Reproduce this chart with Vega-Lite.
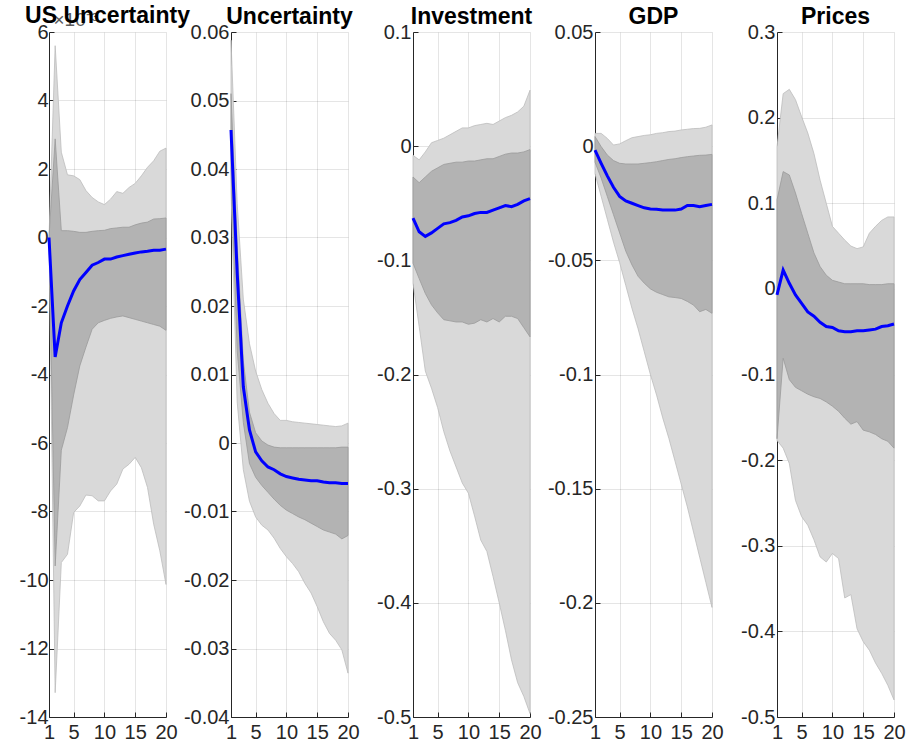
{
  "$schema": "https://vega.github.io/schema/vega-lite/v6.json",
  "background": "white",
  "padding": {"left": 19, "top": 5, "right": 4, "bottom": 2},
  "bounds": "flush",
  "spacing": 65,
  "config": {
    "font": "Liberation Sans",
    "view": {"stroke": null},
    "axis": {
      "domainColor": "#262626",
      "domainWidth": 1,
      "tickColor": "#262626",
      "tickSize": -5,
      "labelFont": "Liberation Sans",
      "labelFontSize": 20,
      "labelColor": "#262626",
      "labelFlush": false,
      "labelOverlap": false,
      "labelBound": false,
      "grid": true,
      "gridColor": "#000000",
      "gridOpacity": 0.1,
      "gridWidth": 1,
      "title": null,
      "zindex": 1,
      "labelExpr": "'' + datum.value"
    },
    "axisX": {"labelPadding": 10},
    "axisY": {"labelPadding": 7},
    "title": {
      "font": "Liberation Sans",
      "fontSize": 23,
      "fontWeight": "bold",
      "color": "#000000",
      "anchor": "middle",
      "frame": "group",
      "baseline": "alphabetic",
      "offset": -7
    },
    "area": {"strokeWidth": 0.8},
    "line": {"color": "#0000ff", "strokeWidth": 3},
    "rule": {"color": "#000000", "strokeWidth": 2}
  },
  "datasets": {
    "irf": [
      {"panel": "US Uncertainty", "h": 1, "lo90": 0, "lo68": 0, "med": 0, "hi68": 0, "hi90": 0},
      {"panel": "US Uncertainty", "h": 2, "lo90": -13.29, "lo68": -9.59, "med": -3.49, "hi68": 2.88, "hi90": 5.6},
      {"panel": "US Uncertainty", "h": 3, "lo90": -9.49, "lo68": -6.21, "med": -2.49, "hi68": 0.2, "hi90": 2.49},
      {"panel": "US Uncertainty", "h": 4, "lo90": -9.25, "lo68": -5.55, "med": -2.0, "hi68": 0.2, "hi90": 1.83},
      {"panel": "US Uncertainty", "h": 5, "lo90": -8.03, "lo68": -4.6, "med": -1.56, "hi68": 0.18, "hi90": 1.8},
      {"panel": "US Uncertainty", "h": 6, "lo90": -7.84, "lo68": -3.75, "med": -1.23, "hi68": 0.15, "hi90": 1.69},
      {"panel": "US Uncertainty", "h": 7, "lo90": -7.52, "lo68": -3.2, "med": -1.02, "hi68": 0.15, "hi90": 1.37},
      {"panel": "US Uncertainty", "h": 8, "lo90": -7.54, "lo68": -2.68, "med": -0.81, "hi68": 0.18, "hi90": 1.17},
      {"panel": "US Uncertainty", "h": 9, "lo90": -7.69, "lo68": -2.49, "med": -0.73, "hi68": 0.2, "hi90": 1.04},
      {"panel": "US Uncertainty", "h": 10, "lo90": -7.69, "lo68": -2.42, "med": -0.63, "hi68": 0.21, "hi90": 0.96},
      {"panel": "US Uncertainty", "h": 11, "lo90": -7.4, "lo68": -2.36, "med": -0.63, "hi68": 0.26, "hi90": 1.12},
      {"panel": "US Uncertainty", "h": 12, "lo90": -7.2, "lo68": -2.32, "med": -0.57, "hi68": 0.28, "hi90": 1.34},
      {"panel": "US Uncertainty", "h": 13, "lo90": -6.76, "lo68": -2.29, "med": -0.53, "hi68": 0.3, "hi90": 1.29},
      {"panel": "US Uncertainty", "h": 14, "lo90": -6.62, "lo68": -2.34, "med": -0.49, "hi68": 0.3, "hi90": 1.46},
      {"panel": "US Uncertainty", "h": 15, "lo90": -6.42, "lo68": -2.39, "med": -0.45, "hi68": 0.37, "hi90": 1.58},
      {"panel": "US Uncertainty", "h": 16, "lo90": -6.72, "lo68": -2.44, "med": -0.42, "hi68": 0.42, "hi90": 1.8},
      {"panel": "US Uncertainty", "h": 17, "lo90": -7.3, "lo68": -2.49, "med": -0.4, "hi68": 0.45, "hi90": 2.05},
      {"panel": "US Uncertainty", "h": 18, "lo90": -8.37, "lo68": -2.54, "med": -0.37, "hi68": 0.54, "hi90": 2.24},
      {"panel": "US Uncertainty", "h": 19, "lo90": -9.15, "lo68": -2.59, "med": -0.37, "hi68": 0.55, "hi90": 2.52},
      {"panel": "US Uncertainty", "h": 20, "lo90": -10.13, "lo68": -2.71, "med": -0.34, "hi68": 0.57, "hi90": 2.61},

      {"panel": "Uncertainty", "h": 1, "lo90": 0.0369, "lo68": 0.04, "med": 0.0457, "hi68": 0.051, "hi90": 0.0588},
      {"panel": "Uncertainty", "h": 2, "lo90": 0.006, "lo68": 0.0135, "med": 0.0249, "hi68": 0.029, "hi90": 0.035},
      {"panel": "Uncertainty", "h": 3, "lo90": -0.0039, "lo68": 0.003, "med": 0.0082, "hi68": 0.012, "hi90": 0.021},
      {"panel": "Uncertainty", "h": 4, "lo90": -0.0085, "lo68": -0.003, "med": 0.0019, "hi68": 0.0045, "hi90": 0.0145},
      {"panel": "Uncertainty", "h": 5, "lo90": -0.0108, "lo68": -0.005, "med": -0.0013, "hi68": 0.0015, "hi90": 0.0105},
      {"panel": "Uncertainty", "h": 6, "lo90": -0.012, "lo68": -0.0062, "med": -0.0026, "hi68": 0.0003, "hi90": 0.0078},
      {"panel": "Uncertainty", "h": 7, "lo90": -0.0127, "lo68": -0.0072, "med": -0.0035, "hi68": -0.0003, "hi90": 0.0058},
      {"panel": "Uncertainty", "h": 8, "lo90": -0.0139, "lo68": -0.0082, "med": -0.0039, "hi68": -0.0006, "hi90": 0.0043},
      {"panel": "Uncertainty", "h": 9, "lo90": -0.0154, "lo68": -0.0091, "med": -0.0045, "hi68": -0.0007, "hi90": 0.0033},
      {"panel": "Uncertainty", "h": 10, "lo90": -0.0166, "lo68": -0.0098, "med": -0.0049, "hi68": -0.0007, "hi90": 0.0033},
      {"panel": "Uncertainty", "h": 11, "lo90": -0.0176, "lo68": -0.0103, "med": -0.0051, "hi68": -0.0007, "hi90": 0.0031},
      {"panel": "Uncertainty", "h": 12, "lo90": -0.0188, "lo68": -0.0108, "med": -0.0053, "hi68": -0.0007, "hi90": 0.003},
      {"panel": "Uncertainty", "h": 13, "lo90": -0.0205, "lo68": -0.0112, "med": -0.0054, "hi68": -0.0007, "hi90": 0.0029},
      {"panel": "Uncertainty", "h": 14, "lo90": -0.0219, "lo68": -0.0117, "med": -0.0055, "hi68": -0.0007, "hi90": 0.0028},
      {"panel": "Uncertainty", "h": 15, "lo90": -0.0239, "lo68": -0.0122, "med": -0.0055, "hi68": -0.0007, "hi90": 0.0027},
      {"panel": "Uncertainty", "h": 16, "lo90": -0.0261, "lo68": -0.0127, "med": -0.0057, "hi68": -0.0007, "hi90": 0.0026},
      {"panel": "Uncertainty", "h": 17, "lo90": -0.0278, "lo68": -0.013, "med": -0.0058, "hi68": -0.0007, "hi90": 0.0025},
      {"panel": "Uncertainty", "h": 18, "lo90": -0.0288, "lo68": -0.0133, "med": -0.0058, "hi68": -0.0007, "hi90": 0.0024},
      {"panel": "Uncertainty", "h": 19, "lo90": -0.0302, "lo68": -0.014, "med": -0.0059, "hi68": -0.0006, "hi90": 0.0025},
      {"panel": "Uncertainty", "h": 20, "lo90": -0.0336, "lo68": -0.0135, "med": -0.0059, "hi68": -0.0006, "hi90": 0.0029},

      {"panel": "Investment", "h": 1, "lo90": -0.12, "lo68": -0.1025, "med": -0.063, "hi68": -0.027, "hi90": -0.008},
      {"panel": "Investment", "h": 2, "lo90": -0.158, "lo68": -0.116, "med": -0.075, "hi68": -0.032, "hi90": -0.012},
      {"panel": "Investment", "h": 3, "lo90": -0.197, "lo68": -0.129, "med": -0.079, "hi68": -0.027, "hi90": -0.005},
      {"panel": "Investment", "h": 4, "lo90": -0.212, "lo68": -0.139, "med": -0.076, "hi68": -0.022, "hi90": 0.003},
      {"panel": "Investment", "h": 5, "lo90": -0.229, "lo68": -0.146, "med": -0.072, "hi68": -0.019, "hi90": 0.005},
      {"panel": "Investment", "h": 6, "lo90": -0.25, "lo68": -0.152, "med": -0.068, "hi68": -0.016, "hi90": 0.007},
      {"panel": "Investment", "h": 7, "lo90": -0.267, "lo68": -0.153, "med": -0.067, "hi68": -0.015, "hi90": 0.01},
      {"panel": "Investment", "h": 8, "lo90": -0.281, "lo68": -0.154, "med": -0.065, "hi68": -0.014, "hi90": 0.013},
      {"panel": "Investment", "h": 9, "lo90": -0.295, "lo68": -0.154, "med": -0.062, "hi68": -0.014, "hi90": 0.016},
      {"panel": "Investment", "h": 10, "lo90": -0.304, "lo68": -0.156, "med": -0.061, "hi68": -0.013, "hi90": 0.016},
      {"panel": "Investment", "h": 11, "lo90": -0.324, "lo68": -0.155, "med": -0.059, "hi68": -0.013, "hi90": 0.018},
      {"panel": "Investment", "h": 12, "lo90": -0.345, "lo68": -0.152, "med": -0.058, "hi68": -0.012, "hi90": 0.019},
      {"panel": "Investment", "h": 13, "lo90": -0.355, "lo68": -0.154, "med": -0.058, "hi68": -0.011, "hi90": 0.02},
      {"panel": "Investment", "h": 14, "lo90": -0.377, "lo68": -0.151, "med": -0.056, "hi68": -0.011, "hi90": 0.019},
      {"panel": "Investment", "h": 15, "lo90": -0.4, "lo68": -0.154, "med": -0.054, "hi68": -0.009, "hi90": 0.022},
      {"panel": "Investment", "h": 16, "lo90": -0.424, "lo68": -0.149, "med": -0.052, "hi68": -0.007, "hi90": 0.025},
      {"panel": "Investment", "h": 17, "lo90": -0.45, "lo68": -0.149, "med": -0.053, "hi68": -0.006, "hi90": 0.027},
      {"panel": "Investment", "h": 18, "lo90": -0.47, "lo68": -0.151, "med": -0.051, "hi68": -0.006, "hi90": 0.03},
      {"panel": "Investment", "h": 19, "lo90": -0.482, "lo68": -0.159, "med": -0.048, "hi68": -0.005, "hi90": 0.035},
      {"panel": "Investment", "h": 20, "lo90": -0.497, "lo68": -0.167, "med": -0.046, "hi68": -0.003, "hi90": 0.049},

      {"panel": "GDP", "h": 1, "lo90": -0.012, "lo68": -0.007, "med": -0.0017, "hi68": 0.0042, "hi90": 0.0056},
      {"panel": "GDP", "h": 2, "lo90": -0.022, "lo68": -0.014, "med": -0.0075, "hi68": -0.0002, "hi90": 0.0056},
      {"panel": "GDP", "h": 3, "lo90": -0.032, "lo68": -0.022, "med": -0.013, "hi68": -0.0039, "hi90": 0.0034},
      {"panel": "GDP", "h": 4, "lo90": -0.042, "lo68": -0.03, "med": -0.018, "hi68": -0.0063, "hi90": 0.0005},
      {"panel": "GDP", "h": 5, "lo90": -0.051, "lo68": -0.038, "med": -0.022, "hi68": -0.0075, "hi90": 0.001},
      {"panel": "GDP", "h": 6, "lo90": -0.061, "lo68": -0.046, "med": -0.024, "hi68": -0.0078, "hi90": 0.0024},
      {"panel": "GDP", "h": 7, "lo90": -0.071, "lo68": -0.052, "med": -0.025, "hi68": -0.0078, "hi90": 0.0037},
      {"panel": "GDP", "h": 8, "lo90": -0.08, "lo68": -0.057, "med": -0.026, "hi68": -0.0078, "hi90": 0.0042},
      {"panel": "GDP", "h": 9, "lo90": -0.09, "lo68": -0.06, "med": -0.027, "hi68": -0.0075, "hi90": 0.0047},
      {"panel": "GDP", "h": 10, "lo90": -0.1, "lo68": -0.0625, "med": -0.0275, "hi68": -0.0072, "hi90": 0.005},
      {"panel": "GDP", "h": 11, "lo90": -0.109, "lo68": -0.064, "med": -0.0276, "hi68": -0.0068, "hi90": 0.0056},
      {"panel": "GDP", "h": 12, "lo90": -0.119, "lo68": -0.065, "med": -0.028, "hi68": -0.0063, "hi90": 0.0059},
      {"panel": "GDP", "h": 13, "lo90": -0.128, "lo68": -0.066, "med": -0.028, "hi68": -0.0058, "hi90": 0.0064},
      {"panel": "GDP", "h": 14, "lo90": -0.138, "lo68": -0.0663, "med": -0.028, "hi68": -0.0055, "hi90": 0.0066},
      {"panel": "GDP", "h": 15, "lo90": -0.148, "lo68": -0.0667, "med": -0.0275, "hi68": -0.005, "hi90": 0.0071},
      {"panel": "GDP", "h": 16, "lo90": -0.158, "lo68": -0.068, "med": -0.026, "hi68": -0.0046, "hi90": 0.0074},
      {"panel": "GDP", "h": 17, "lo90": -0.169, "lo68": -0.0696, "med": -0.026, "hi68": -0.0043, "hi90": 0.0077},
      {"panel": "GDP", "h": 18, "lo90": -0.18, "lo68": -0.0725, "med": -0.0265, "hi68": -0.004, "hi90": 0.0078},
      {"panel": "GDP", "h": 19, "lo90": -0.191, "lo68": -0.0715, "med": -0.026, "hi68": -0.0039, "hi90": 0.0083},
      {"panel": "GDP", "h": 20, "lo90": -0.202, "lo68": -0.0732, "med": -0.0255, "hi68": -0.0036, "hi90": 0.0093},

      {"panel": "Prices", "h": 1, "lo90": -0.177, "lo68": -0.175, "med": -0.007, "hi68": 0.104, "hi90": 0.166},
      {"panel": "Prices", "h": 2, "lo90": -0.186, "lo68": -0.081, "med": 0.022, "hi68": 0.137, "hi90": 0.228},
      {"panel": "Prices", "h": 3, "lo90": -0.204, "lo68": -0.106, "med": 0.0065, "hi68": 0.133, "hi90": 0.233},
      {"panel": "Prices", "h": 4, "lo90": -0.247, "lo68": -0.115, "med": -0.007, "hi68": 0.112, "hi90": 0.221},
      {"panel": "Prices", "h": 5, "lo90": -0.266, "lo68": -0.119, "med": -0.017, "hi68": 0.088, "hi90": 0.201},
      {"panel": "Prices", "h": 6, "lo90": -0.276, "lo68": -0.123, "med": -0.027, "hi68": 0.065, "hi90": 0.182},
      {"panel": "Prices", "h": 7, "lo90": -0.293, "lo68": -0.126, "med": -0.032, "hi68": 0.042, "hi90": 0.158},
      {"panel": "Prices", "h": 8, "lo90": -0.313, "lo68": -0.128, "med": -0.039, "hi68": 0.026, "hi90": 0.127},
      {"panel": "Prices", "h": 9, "lo90": -0.319, "lo68": -0.132, "med": -0.044, "hi68": 0.016, "hi90": 0.1},
      {"panel": "Prices", "h": 10, "lo90": -0.309, "lo68": -0.137, "med": -0.045, "hi68": 0.01, "hi90": 0.073},
      {"panel": "Prices", "h": 11, "lo90": -0.315, "lo68": -0.143, "med": -0.049, "hi68": 0.008, "hi90": 0.065},
      {"panel": "Prices", "h": 12, "lo90": -0.361, "lo68": -0.151, "med": -0.05, "hi68": 0.006, "hi90": 0.057},
      {"panel": "Prices", "h": 13, "lo90": -0.357, "lo68": -0.158, "med": -0.05, "hi68": 0.006, "hi90": 0.05},
      {"panel": "Prices", "h": 14, "lo90": -0.397, "lo68": -0.155, "med": -0.049, "hi68": 0.006, "hi90": 0.047},
      {"panel": "Prices", "h": 15, "lo90": -0.412, "lo68": -0.165, "med": -0.049, "hi68": 0.006, "hi90": 0.049},
      {"panel": "Prices", "h": 16, "lo90": -0.422, "lo68": -0.167, "med": -0.048, "hi68": 0.005, "hi90": 0.065},
      {"panel": "Prices", "h": 17, "lo90": -0.437, "lo68": -0.17, "med": -0.047, "hi68": 0.005, "hi90": 0.073},
      {"panel": "Prices", "h": 18, "lo90": -0.449, "lo68": -0.175, "med": -0.044, "hi68": 0.005, "hi90": 0.08},
      {"panel": "Prices", "h": 19, "lo90": -0.463, "lo68": -0.178, "med": -0.043, "hi68": 0.006, "hi90": 0.084},
      {"panel": "Prices", "h": 20, "lo90": -0.48, "lo68": -0.186, "med": -0.041, "hi68": 0.006, "hi90": 0.084}
    ],
    "zero": [{"level": 0}]
  },
  "hconcat": [
    {
      "width": 117,
      "height": 685,
      "title": {"text": "US Uncertainty", "offset": -18},
      "data": {"name": "irf"},
      "transform": [{"filter": "datum.panel === 'US Uncertainty'"}],
      "encoding": {
        "x": {"field": "h", "type": "quantitative", "scale": {"domain": [1, 20], "nice": false, "zero": false}, "axis": {"values": [1, 5, 10, 15, 20]}}
      },
      "layer": [
        {
          "mark": {"type": "area", "color": "#d9d9d9", "stroke": "#bdbdbd"},
          "encoding": {
            "y": {
              "field": "lo90", "type": "quantitative",
              "scale": {"domain": [-14, 6], "nice": false, "zero": false},
              "axis": {
                "values": [-14, -12, -10, -8, -6, -4, -2, 0, 2, 4, 6],
                "labelPadding": 6,
                "title": "×10⁻³",
                "titleAngle": 0,
                "titleX": 4,
                "titleY": -7,
                "titleAlign": "left",
                "titleBaseline": "alphabetic",
                "titleFont": "Liberation Sans",
                "titleFontSize": 19,
                "titleFontWeight": "normal",
                "titleColor": "#5a5a5a"
              }
            },
            "y2": {"field": "hi90"}
          }
        },
        {
          "mark": {"type": "area", "color": "#b3b3b3", "stroke": "#9a9a9a"},
          "encoding": {"y": {"field": "lo68", "type": "quantitative"}, "y2": {"field": "hi68"}}
        },
        {
          "data": {"name": "zero"},
          "mark": {"type": "rule"},
          "encoding": {"y": {"field": "level", "type": "quantitative"}}
        },
        {
          "mark": {"type": "line"},
          "encoding": {"y": {"field": "med", "type": "quantitative"}}
        }
      ]
    },
    {
      "width": 117,
      "height": 685,
      "title": "Uncertainty",
      "data": {"name": "irf"},
      "transform": [{"filter": "datum.panel === 'Uncertainty'"}],
      "encoding": {
        "x": {"field": "h", "type": "quantitative", "scale": {"domain": [1, 20], "nice": false, "zero": false}, "axis": {"values": [1, 5, 10, 15, 20]}}
      },
      "layer": [
        {
          "mark": {"type": "area", "color": "#d9d9d9", "stroke": "#bdbdbd"},
          "encoding": {
            "y": {
              "field": "lo90", "type": "quantitative",
              "scale": {"domain": [-0.04, 0.06], "nice": false, "zero": false},
              "axis": {"values": [-0.04, -0.03, -0.02, -0.01, 0, 0.01, 0.02, 0.03, 0.04, 0.05, 0.06]}
            },
            "y2": {"field": "hi90"}
          }
        },
        {
          "mark": {"type": "area", "color": "#b3b3b3", "stroke": "#9a9a9a"},
          "encoding": {"y": {"field": "lo68", "type": "quantitative"}, "y2": {"field": "hi68"}}
        },
        {
          "data": {"name": "zero"},
          "mark": {"type": "rule"},
          "encoding": {"y": {"field": "level", "type": "quantitative"}}
        },
        {
          "mark": {"type": "line"},
          "encoding": {"y": {"field": "med", "type": "quantitative"}}
        }
      ]
    },
    {
      "width": 117,
      "height": 685,
      "title": "Investment",
      "data": {"name": "irf"},
      "transform": [{"filter": "datum.panel === 'Investment'"}],
      "encoding": {
        "x": {"field": "h", "type": "quantitative", "scale": {"domain": [1, 20], "nice": false, "zero": false}, "axis": {"values": [1, 5, 10, 15, 20]}}
      },
      "layer": [
        {
          "mark": {"type": "area", "color": "#d9d9d9", "stroke": "#bdbdbd"},
          "encoding": {
            "y": {
              "field": "lo90", "type": "quantitative",
              "scale": {"domain": [-0.5, 0.1], "nice": false, "zero": false},
              "axis": {"values": [-0.5, -0.4, -0.3, -0.2, -0.1, 0, 0.1]}
            },
            "y2": {"field": "hi90"}
          }
        },
        {
          "mark": {"type": "area", "color": "#b3b3b3", "stroke": "#9a9a9a"},
          "encoding": {"y": {"field": "lo68", "type": "quantitative"}, "y2": {"field": "hi68"}}
        },
        {
          "data": {"name": "zero"},
          "mark": {"type": "rule"},
          "encoding": {"y": {"field": "level", "type": "quantitative"}}
        },
        {
          "mark": {"type": "line"},
          "encoding": {"y": {"field": "med", "type": "quantitative"}}
        }
      ]
    },
    {
      "width": 117,
      "height": 685,
      "title": "GDP",
      "data": {"name": "irf"},
      "transform": [{"filter": "datum.panel === 'GDP'"}],
      "encoding": {
        "x": {"field": "h", "type": "quantitative", "scale": {"domain": [1, 20], "nice": false, "zero": false}, "axis": {"values": [1, 5, 10, 15, 20]}}
      },
      "layer": [
        {
          "mark": {"type": "area", "color": "#d9d9d9", "stroke": "#bdbdbd"},
          "encoding": {
            "y": {
              "field": "lo90", "type": "quantitative",
              "scale": {"domain": [-0.25, 0.05], "nice": false, "zero": false},
              "axis": {"values": [-0.25, -0.2, -0.15, -0.1, -0.05, 0, 0.05]}
            },
            "y2": {"field": "hi90"}
          }
        },
        {
          "mark": {"type": "area", "color": "#b3b3b3", "stroke": "#9a9a9a"},
          "encoding": {"y": {"field": "lo68", "type": "quantitative"}, "y2": {"field": "hi68"}}
        },
        {
          "data": {"name": "zero"},
          "mark": {"type": "rule"},
          "encoding": {"y": {"field": "level", "type": "quantitative"}}
        },
        {
          "mark": {"type": "line"},
          "encoding": {"y": {"field": "med", "type": "quantitative"}}
        }
      ]
    },
    {
      "width": 117,
      "height": 685,
      "title": "Prices",
      "data": {"name": "irf"},
      "transform": [{"filter": "datum.panel === 'Prices'"}],
      "encoding": {
        "x": {"field": "h", "type": "quantitative", "scale": {"domain": [1, 20], "nice": false, "zero": false}, "axis": {"values": [1, 5, 10, 15, 20]}}
      },
      "layer": [
        {
          "mark": {"type": "area", "color": "#d9d9d9", "stroke": "#bdbdbd"},
          "encoding": {
            "y": {
              "field": "lo90", "type": "quantitative",
              "scale": {"domain": [-0.5, 0.3], "nice": false, "zero": false},
              "axis": {"values": [-0.5, -0.4, -0.3, -0.2, -0.1, 0, 0.1, 0.2, 0.3]}
            },
            "y2": {"field": "hi90"}
          }
        },
        {
          "mark": {"type": "area", "color": "#b3b3b3", "stroke": "#9a9a9a"},
          "encoding": {"y": {"field": "lo68", "type": "quantitative"}, "y2": {"field": "hi68"}}
        },
        {
          "data": {"name": "zero"},
          "mark": {"type": "rule"},
          "encoding": {"y": {"field": "level", "type": "quantitative"}}
        },
        {
          "mark": {"type": "line"},
          "encoding": {"y": {"field": "med", "type": "quantitative"}}
        }
      ]
    }
  ]
}
